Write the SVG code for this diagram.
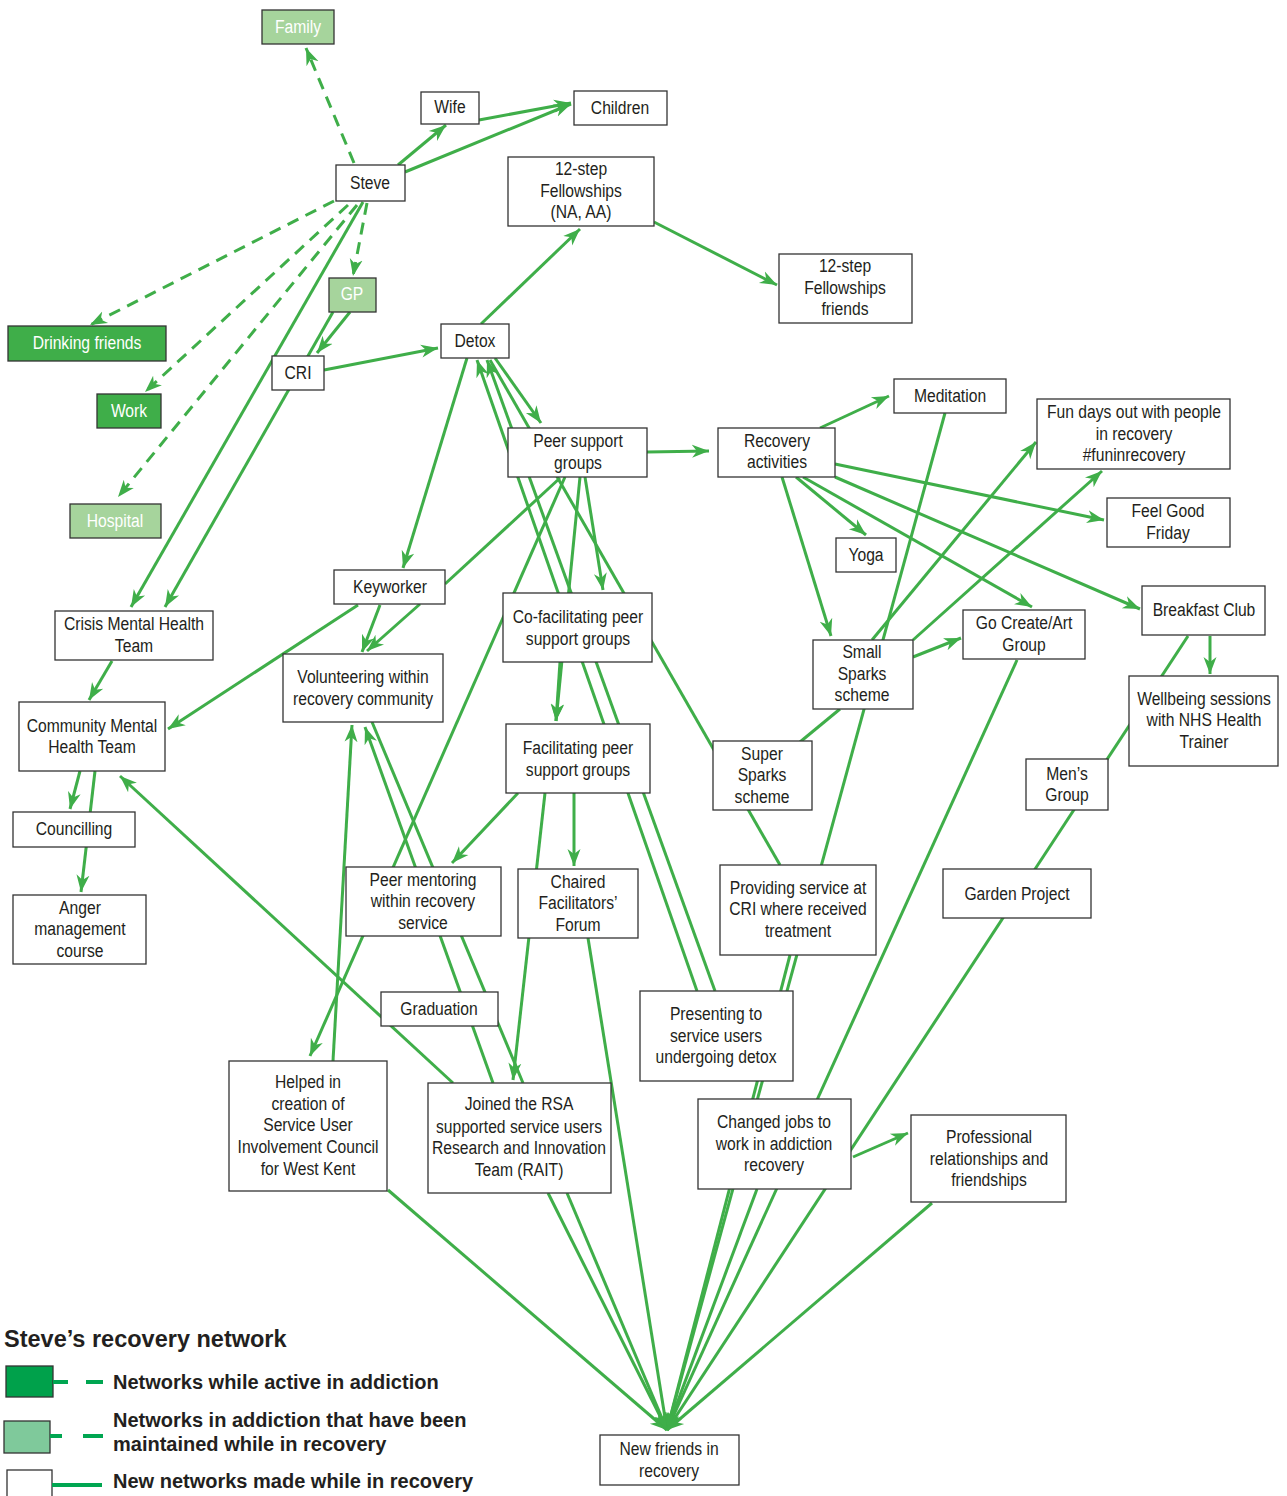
<svg xmlns="http://www.w3.org/2000/svg" width="1287" height="1496" viewBox="0 0 1287 1496">
<defs>
<marker id="a" markerUnits="userSpaceOnUse" markerWidth="20" markerHeight="16" refX="17" refY="8" orient="auto"><path d="M0,1.5 L17,8 L0,14.5 L5,8 Z" fill="#3fae49"/></marker>
<style>
.c line{stroke:#3fae49;stroke-width:3;fill:none}
.c .ar{marker-end:url(#a)}
.c .d{stroke-dasharray:12 8}
.b{fill:#fff;stroke:#333;stroke-width:1.3}
.dk{fill:#3fae49;stroke:#333;stroke-width:1.3}
.lt{fill:#a6d49c;stroke:#333;stroke-width:1.3}
.t{font-family:"Liberation Sans",Arial,sans-serif;font-size:18px;fill:#231f20;text-anchor:middle}
.w{fill:#fff}
.lg{font-family:"Liberation Sans",Arial,sans-serif;font-weight:bold;fill:#231f20;font-size:20px}
.ll{stroke:#00a651;stroke-width:4}
</style>
</defs>
<rect width="1287" height="1496" fill="#fff"/>
<g id="connectors" class="c">
<line class="d ar" x1="354" y1="163" x2="306" y2="48"/>
<line class="d ar" x1="334" y1="201" x2="90" y2="325"/>
<line class="d ar" x1="348" y1="205" x2="145" y2="392"/>
<line class="d ar" x1="357" y1="205" x2="118" y2="497"/>
<line class="d ar" x1="367" y1="203" x2="353" y2="276"/>
<line class="ar" x1="398" y1="165" x2="446" y2="125"/>
<line class="ar" x1="405" y1="172" x2="571" y2="104"/>
<line class="ar" x1="479" y1="120" x2="571" y2="103"/>
<line class="ar" x1="363" y1="202" x2="131" y2="607"/>
<line class="ar" x1="333" y1="312" x2="165" y2="607"/>
<line class="ar" x1="350" y1="312" x2="317" y2="353"/>
<line class="ar" x1="324" y1="370" x2="438" y2="348"/>
<line class="ar" x1="481" y1="324" x2="580" y2="229"/>
<line class="ar" x1="654" y1="222" x2="777" y2="285"/>
<line class="ar" x1="467" y1="358" x2="403" y2="568"/>
<line class="ar" x1="495" y1="358" x2="541" y2="423"/>
<line class="ar" x1="647" y1="452" x2="709" y2="451"/>
<line class="ar" x1="697" y1="991" x2="477" y2="360"/>
<line class="ar" x1="715" y1="991" x2="487" y2="360"/>
<line x1="490" y1="360" x2="780" y2="865"/>
<line x1="560" y1="478" x2="445" y2="584"/>
<line class="ar" x1="358" y1="605" x2="168" y2="729"/>
<line class="ar" x1="565" y1="477" x2="310" y2="1056"/>
<line class="ar" x1="580" y1="477" x2="556" y2="721"/>
<line class="ar" x1="560" y1="662" x2="556" y2="721"/>
<line class="ar" x1="585" y1="477" x2="603" y2="590"/>
<line class="ar" x1="380" y1="605" x2="362" y2="652"/>
<line class="ar" x1="420" y1="604" x2="367" y2="651"/>
<line class="ar" x1="112" y1="661" x2="89" y2="700"/>
<line class="ar" x1="80" y1="771" x2="70" y2="809"/>
<line class="ar" x1="95" y1="771" x2="81" y2="892"/>
<line class="ar" x1="333" y1="1061" x2="352" y2="725"/>
<line class="ar" x1="493" y1="1083" x2="365" y2="727"/>
<line x1="372" y1="722" x2="523" y2="1083"/>
<line class="ar" x1="453" y1="1083" x2="120" y2="776"/>
<line class="ar" x1="518" y1="793" x2="452" y2="863"/>
<line class="ar" x1="574" y1="793" x2="574" y2="866"/>
<line class="ar" x1="545" y1="793" x2="513" y2="1080"/>
<line class="ar" x1="588" y1="938" x2="667" y2="1430"/>
<line class="ar" x1="388" y1="1190" x2="667" y2="1430"/>
<line class="ar" x1="548" y1="1193" x2="667" y2="1430"/>
<line class="ar" x1="567" y1="1193" x2="667" y2="1430"/>
<line class="ar" x1="945" y1="413" x2="667" y2="1430"/>
<line class="ar" x1="790" y1="955" x2="667" y2="1430"/>
<line class="ar" x1="757" y1="1189" x2="667" y2="1430"/>
<line class="ar" x1="1017" y1="660" x2="667" y2="1430"/>
<line class="ar" x1="1188" y1="636" x2="667" y2="1430"/>
<line class="ar" x1="932" y1="1203" x2="667" y2="1430"/>
<line class="ar" x1="782" y1="477" x2="831" y2="636"/>
<line class="ar" x1="796" y1="477" x2="866" y2="535"/>
<line class="ar" x1="820" y1="428" x2="889" y2="396"/>
<line class="ar" x1="835" y1="464" x2="1104" y2="520"/>
<line class="ar" x1="803" y1="477" x2="1032" y2="607"/>
<line class="ar" x1="835" y1="477" x2="1140" y2="609"/>
<line class="ar" x1="913" y1="657" x2="961" y2="638"/>
<line class="ar" x1="872" y1="640" x2="1036" y2="442"/>
<line class="ar" x1="913" y1="640" x2="1102" y2="471"/>
<line x1="840" y1="709" x2="800" y2="742"/>
<line class="ar" x1="1210" y1="636" x2="1210" y2="674"/>
<line class="ar" x1="853" y1="1157" x2="908" y2="1133"/>
</g>
<g id="n-family"><rect class="lt" x="262" y="10" width="72" height="34"/><text class="t w" transform="translate(298,33) scale(.87,1)">Family</text></g>
<g id="n-wife"><rect class="b" x="421" y="92" width="58" height="32"/><text class="t" transform="translate(450,113) scale(.87,1)">Wife</text></g>
<g id="n-children"><rect class="b" x="574" y="91" width="93" height="34"/><text class="t" transform="translate(620,114) scale(.87,1)">Children</text></g>
<g id="n-steve"><rect class="b" x="336" y="165" width="69" height="36"/><text class="t" transform="translate(370,189) scale(.87,1)">Steve</text></g>
<g id="n-12step"><rect class="b" x="508" y="157" width="146" height="69"/><text class="t" transform="translate(581,0) scale(.87,1)"><tspan x="0" y="175">12-step</tspan><tspan x="0" y="197">Fellowships</tspan><tspan x="0" y="218">(NA, AA)</tspan></text></g>
<g id="n-12friends"><rect class="b" x="779" y="254" width="133" height="69"/><text class="t" transform="translate(845,0) scale(.87,1)"><tspan x="0" y="272">12-step</tspan><tspan x="0" y="294">Fellowships</tspan><tspan x="0" y="315">friends</tspan></text></g>
<g id="n-gp"><rect class="lt" x="329" y="278" width="47" height="34"/><text class="t w" transform="translate(352,300) scale(.87,1)">GP</text></g>
<g id="n-drinking"><rect class="dk" x="8" y="326" width="158" height="35"/><text class="t w" transform="translate(87,349) scale(.87,1)">Drinking friends</text></g>
<g id="n-cri"><rect class="b" x="272" y="356" width="52" height="34"/><text class="t" transform="translate(298,379) scale(.87,1)">CRI</text></g>
<g id="n-detox"><rect class="b" x="441" y="324" width="68" height="34"/><text class="t" transform="translate(475,347) scale(.87,1)">Detox</text></g>
<g id="n-work"><rect class="dk" x="97" y="394" width="64" height="34"/><text class="t w" transform="translate(129,417) scale(.87,1)">Work</text></g>
<g id="n-hospital"><rect class="lt" x="70" y="504" width="91" height="34"/><text class="t w" transform="translate(115,527) scale(.87,1)">Hospital</text></g>
<g id="n-peersupport"><rect class="b" x="508" y="428" width="139" height="49"/><text class="t" transform="translate(578,0) scale(.87,1)"><tspan x="0" y="447">Peer support</tspan><tspan x="0" y="469">groups</tspan></text></g>
<g id="n-recovery"><rect class="b" x="718" y="428" width="117" height="49"/><text class="t" transform="translate(777,0) scale(.87,1)"><tspan x="0" y="447">Recovery</tspan><tspan x="0" y="468">activities</tspan></text></g>
<g id="n-meditation"><rect class="b" x="894" y="379" width="112" height="34"/><text class="t" transform="translate(950,402) scale(.87,1)">Meditation</text></g>
<g id="n-fundays"><rect class="b" x="1037" y="399" width="193" height="70"/><text class="t" transform="translate(1134,0) scale(.87,1)"><tspan x="0" y="418">Fun days out with people</tspan><tspan x="0" y="440">in recovery</tspan><tspan x="0" y="461">#funinrecovery</tspan></text></g>
<g id="n-feelgood"><rect class="b" x="1107" y="498" width="123" height="49"/><text class="t" transform="translate(1168,0) scale(.87,1)"><tspan x="0" y="517">Feel Good</tspan><tspan x="0" y="539">Friday</tspan></text></g>
<g id="n-yoga"><rect class="b" x="836" y="538" width="60" height="34"/><text class="t" transform="translate(866,561) scale(.87,1)">Yoga</text></g>
<g id="n-keyworker"><rect class="b" x="334" y="570" width="111" height="34"/><text class="t" transform="translate(390,593) scale(.87,1)">Keyworker</text></g>
<g id="n-crisis"><rect class="b" x="55" y="611" width="158" height="49"/><text class="t" transform="translate(134,0) scale(.87,1)"><tspan x="0" y="630">Crisis Mental Health</tspan><tspan x="0" y="652">Team</tspan></text></g>
<g id="n-cofac"><rect class="b" x="503" y="593" width="149" height="69"/><text class="t" transform="translate(578,0) scale(.87,1)"><tspan x="0" y="623">Co-facilitating peer</tspan><tspan x="0" y="645">support groups</tspan></text></g>
<g id="n-smallsparks"><rect class="b" x="813" y="640" width="100" height="69"/><text class="t" transform="translate(862,0) scale(.87,1)"><tspan x="0" y="658">Small</tspan><tspan x="0" y="680">Sparks</tspan><tspan x="0" y="701">scheme</tspan></text></g>
<g id="n-gocreate"><rect class="b" x="963" y="610" width="122" height="49"/><text class="t" transform="translate(1024,0) scale(.87,1)"><tspan x="0" y="629">Go Create/Art</tspan><tspan x="0" y="651">Group</tspan></text></g>
<g id="n-breakfast"><rect class="b" x="1142" y="586" width="123" height="49"/><text class="t" transform="translate(1204,616) scale(.87,1)">Breakfast Club</text></g>
<g id="n-wellbeing"><rect class="b" x="1129" y="676" width="149" height="90"/><text class="t" transform="translate(1204,0) scale(.87,1)"><tspan x="0" y="705">Wellbeing sessions</tspan><tspan x="0" y="726">with NHS Health</tspan><tspan x="0" y="748">Trainer</tspan></text></g>
<g id="n-volunteering"><rect class="b" x="283" y="654" width="160" height="68"/><text class="t" transform="translate(363,0) scale(.87,1)"><tspan x="0" y="683">Volunteering within</tspan><tspan x="0" y="705">recovery community</tspan></text></g>
<g id="n-cmht"><rect class="b" x="19" y="702" width="146" height="69"/><text class="t" transform="translate(92,0) scale(.87,1)"><tspan x="0" y="732">Community Mental</tspan><tspan x="0" y="753">Health Team</tspan></text></g>
<g id="n-facilitating"><rect class="b" x="506" y="724" width="144" height="69"/><text class="t" transform="translate(578,0) scale(.87,1)"><tspan x="0" y="754">Facilitating peer</tspan><tspan x="0" y="776">support groups</tspan></text></g>
<g id="n-supersparks"><rect class="b" x="713" y="741" width="99" height="69"/><text class="t" transform="translate(762,0) scale(.87,1)"><tspan x="0" y="760">Super</tspan><tspan x="0" y="781">Sparks</tspan><tspan x="0" y="803">scheme</tspan></text></g>
<g id="n-mens"><rect class="b" x="1026" y="759" width="82" height="51"/><text class="t" transform="translate(1067,0) scale(.87,1)"><tspan x="0" y="780">Men’s</tspan><tspan x="0" y="801">Group</tspan></text></g>
<g id="n-councilling"><rect class="b" x="13" y="812" width="122" height="35"/><text class="t" transform="translate(74,835) scale(.87,1)">Councilling</text></g>
<g id="n-peermentoring"><rect class="b" x="346" y="867" width="155" height="69"/><text class="t" transform="translate(423,0) scale(.87,1)"><tspan x="0" y="886">Peer mentoring</tspan><tspan x="0" y="907">within recovery</tspan><tspan x="0" y="929">service</tspan></text></g>
<g id="n-chaired"><rect class="b" x="518" y="869" width="120" height="69"/><text class="t" transform="translate(578,0) scale(.87,1)"><tspan x="0" y="888">Chaired</tspan><tspan x="0" y="909">Facilitators’</tspan><tspan x="0" y="931">Forum</tspan></text></g>
<g id="n-providing"><rect class="b" x="720" y="865" width="156" height="90"/><text class="t" transform="translate(798,0) scale(.87,1)"><tspan x="0" y="894">Providing service at</tspan><tspan x="0" y="915">CRI where received</tspan><tspan x="0" y="937">treatment</tspan></text></g>
<g id="n-garden"><rect class="b" x="943" y="869" width="148" height="49"/><text class="t" transform="translate(1017,900) scale(.87,1)">Garden Project</text></g>
<g id="n-anger"><rect class="b" x="13" y="895" width="133" height="69"/><text class="t" transform="translate(80,0) scale(.87,1)"><tspan x="0" y="914">Anger</tspan><tspan x="0" y="935">management</tspan><tspan x="0" y="957">course</tspan></text></g>
<g id="n-graduation"><rect class="b" x="381" y="992" width="117" height="34"/><text class="t" transform="translate(439,1015) scale(.87,1)">Graduation</text></g>
<g id="n-presenting"><rect class="b" x="640" y="991" width="153" height="90"/><text class="t" transform="translate(716,0) scale(.87,1)"><tspan x="0" y="1020">Presenting to</tspan><tspan x="0" y="1042">service users</tspan><tspan x="0" y="1063">undergoing detox</tspan></text></g>
<g id="n-helped"><rect class="b" x="229" y="1061" width="158" height="130"/><text class="t" transform="translate(308,0) scale(.87,1)"><tspan x="0" y="1088">Helped in</tspan><tspan x="0" y="1110">creation of</tspan><tspan x="0" y="1131">Service User</tspan><tspan x="0" y="1153">Involvement Council</tspan><tspan x="0" y="1175">for West Kent</tspan></text></g>
<g id="n-rsa"><rect class="b" x="428" y="1083" width="183" height="110"/><text class="t" transform="translate(519,0) scale(.87,1)"><tspan x="0" y="1110">Joined the RSA</tspan><tspan x="0" y="1133">supported service users</tspan><tspan x="0" y="1154">Research and Innovation</tspan><tspan x="0" y="1176">Team (RAIT)</tspan></text></g>
<g id="n-changed"><rect class="b" x="698" y="1099" width="153" height="90"/><text class="t" transform="translate(774,0) scale(.87,1)"><tspan x="0" y="1128">Changed jobs to</tspan><tspan x="0" y="1150">work in addiction</tspan><tspan x="0" y="1171">recovery</tspan></text></g>
<g id="n-professional"><rect class="b" x="911" y="1115" width="155" height="87"/><text class="t" transform="translate(989,0) scale(.87,1)"><tspan x="0" y="1143">Professional</tspan><tspan x="0" y="1165">relationships and</tspan><tspan x="0" y="1186">friendships</tspan></text></g>
<g id="n-newfriends"><rect class="b" x="600" y="1435" width="139" height="50"/><text class="t" transform="translate(669,0) scale(.87,1)"><tspan x="0" y="1455">New friends in</tspan><tspan x="0" y="1477">recovery</tspan></text></g>
<g id="legend">
<text class="lg" x="4" y="1347" style="font-size:23.5px">Steve’s recovery network</text>
<rect x="6" y="1366" width="47" height="31" fill="#00a14b" stroke="#333" stroke-width="1.3"/>
<line class="ll" x1="53" y1="1382" x2="68" y2="1382"/><line class="ll" x1="86" y1="1382" x2="103" y2="1382"/>
<text class="lg" x="113" y="1389">Networks while active in addiction</text>
<rect x="4" y="1421" width="46" height="32" fill="#7fc99b" stroke="#333" stroke-width="1.3"/>
<line class="ll" x1="50" y1="1436" x2="62" y2="1436"/><line class="ll" x1="83" y1="1436" x2="103" y2="1436"/>
<text class="lg" x="113" y="1427">Networks in addiction that have been</text>
<text class="lg" x="113" y="1451">maintained while in recovery</text>
<rect x="7" y="1470" width="45" height="30" fill="#fff" stroke="#333" stroke-width="1.3"/>
<line class="ll" x1="52" y1="1485" x2="102" y2="1485"/>
<text class="lg" x="113" y="1488">New networks made while in recovery</text>
</g>
</svg>
